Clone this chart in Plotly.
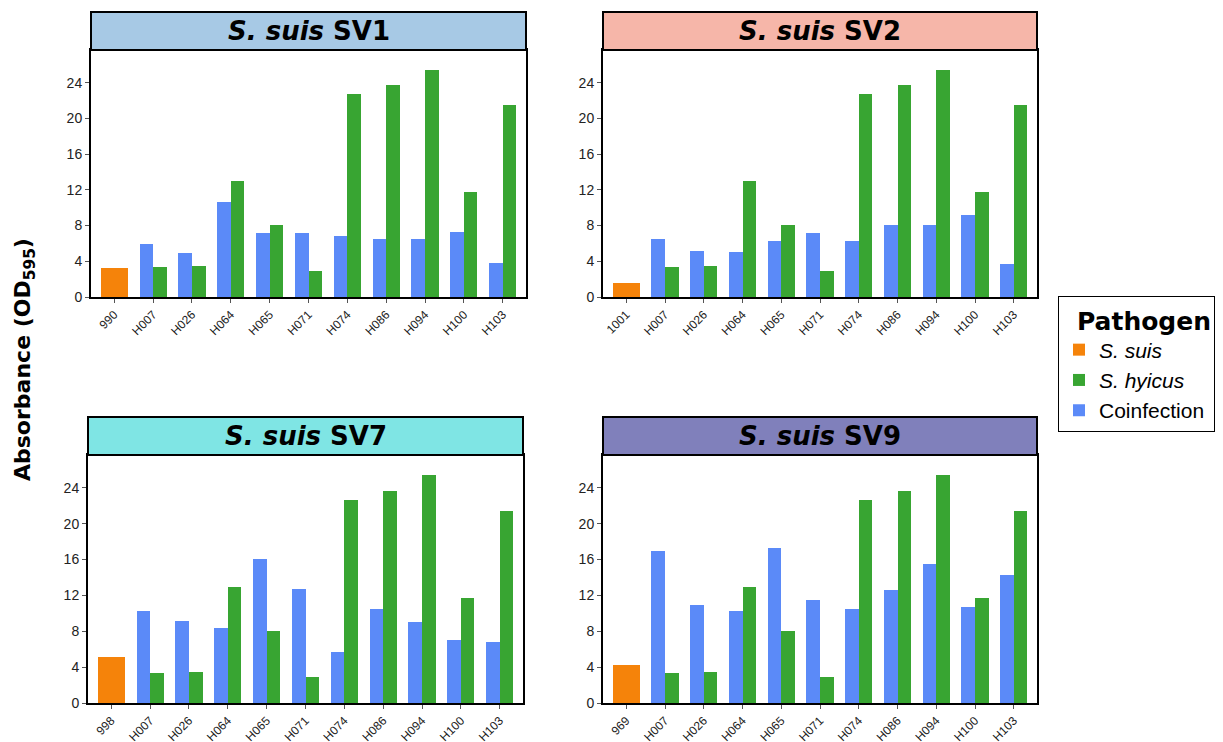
import plotly.graph_objects as go

# ---------------- data ----------------
hyicus_strains = ["H007", "H026", "H064", "H065", "H071", "H074", "H086", "H094", "H100", "H103"]
panels = ["SV1", "SV2", "SV7", "SV9"]
suis_strains = ["990", "1001", "998", "969"]
suis_values = [3.27, 1.6, 5.13, 4.23]
hyicus_values = [3.38, 3.49, 12.97, 8.07, 2.94, 22.68, 23.68, 25.46, 11.75, 21.45]
coinf_sv1 = [5.95, 4.94, 10.63, 7.17, 7.17, 6.84, 6.51, 6.51, 7.29, 3.83]
coinf_sv2 = [6.51, 5.17, 5.06, 6.28, 7.17, 6.28, 8.07, 8.07, 9.18, 3.72]
coinf_sv7 = [10.25, 9.14, 8.36, 16.05, 12.70, 5.68, 10.48, 9.03, 7.02, 6.80]
coinf_sv9 = [16.94, 10.92, 10.25, 17.27, 11.48, 10.48, 12.60, 15.50, 10.70, 14.26]
coinf_values = [coinf_sv1, coinf_sv2, coinf_sv7, coinf_sv9]
y_ticks = [0, 4, 8, 12, 16, 20, 24]

# ---------------- styling ----------------
W, H = 1223, 742
strip_colors = ["#A7C9E5", "#F6B6A9", "#7FE5E4", "#8080BB"]
c_suis, c_hyicus, c_coinf = "#F5830A", "#38A532", "#5B8AF8"


def px(v):
    return v / W


def py(v):
    return 1 - v / H


# panel boxes in screen pixels: (left, right, top, bottom)
boxes = [(91, 526, 50, 297), (603, 1037, 50, 297), (88, 523, 455, 703), (603, 1037, 455, 703)]
strip_h = 38

fig = go.Figure()

for i, name in enumerate(panels):
    xa = "x" if i == 0 else f"x{i+1}"
    ya = "y" if i == 0 else f"y{i+1}"
    show = i == 0
    fig.add_trace(go.Bar(x=[suis_strains[i]], y=[suis_values[i]], name="<i>S. suis</i>",
                         marker=dict(color=c_suis, line=dict(width=0)), width=0.7, offset=-0.35,
                         xaxis=xa, yaxis=ya, legendgroup="suis", showlegend=show, legendrank=1))
    fig.add_trace(go.Bar(x=hyicus_strains, y=hyicus_values, name="<i>S. hyicus</i>",
                         marker=dict(color=c_hyicus, line=dict(width=0)), width=0.35, offset=0.0,
                         xaxis=xa, yaxis=ya, legendgroup="hyicus", showlegend=show, legendrank=2))
    fig.add_trace(go.Bar(x=hyicus_strains, y=coinf_values[i], name="Coinfection",
                         marker=dict(color=c_coinf, line=dict(width=0)), width=0.35, offset=-0.35,
                         xaxis=xa, yaxis=ya, legendgroup="coinf", showlegend=show, legendrank=3))

    l, r, t, b = boxes[i]
    xkey = "xaxis" if i == 0 else f"xaxis{i+1}"
    ykey = "yaxis" if i == 0 else f"yaxis{i+1}"
    fig.layout[xkey] = dict(
        domain=[px(l), px(r)], anchor=ya, type="category", automargin=False,
        categoryorder="array", categoryarray=[suis_strains[i]] + hyicus_strains,
        range=[-0.6, 10.6], showline=True, mirror=True, linecolor="black", linewidth=2,
        ticks="outside", ticklen=4, tickcolor="#555", tickangle=-45,
        tickfont=dict(family="Liberation Sans, Arial", size=12, color="#222"),
        showgrid=False, zeroline=False, fixedrange=True)
    fig.layout[ykey] = dict(
        domain=[py(b), py(t)], anchor=xa, range=[0, 27.65], automargin=False,
        tickvals=y_ticks, showline=True, mirror=True, linecolor="black", linewidth=2,
        ticks="outside", ticklen=4, tickcolor="#555",
        tickfont=dict(family="Liberation Sans, Arial", size=14, color="#222"),
        showgrid=False, zeroline=False, fixedrange=True)

    # strip
    fig.add_shape(type="rect", xref="paper", yref="paper",
                  x0=px(l), x1=px(r), y0=py(t), y1=py(t - strip_h),
                  fillcolor=strip_colors[i], line=dict(color="black", width=2), layer="above")
    fig.add_annotation(xref="paper", yref="paper", x=px((l + r) / 2), y=py(t - strip_h / 2),
                       text=f"<b><i>S. suis</i> {name}</b>", showarrow=False,
                       font=dict(family="DejaVu Sans", size=26, color="black"),
                       xanchor="center", yanchor="middle")

fig.add_annotation(xref="paper", yref="paper", x=px(24), y=py(360), textangle=-90,
                   text="<b>Absorbance (OD<sub>595</sub>)</b>", showarrow=False,
                   font=dict(family="DejaVu Sans", size=22, color="black"),
                   xanchor="center", yanchor="middle")

fig.update_layout(
    width=W, height=H, autosize=False,
    margin=dict(l=0, r=0, t=0, b=0, autoexpand=False),
    plot_bgcolor="white", paper_bgcolor="white",
    barmode="overlay", bargap=0,
    legend=dict(x=px(1058), y=py(296), xanchor="left", yanchor="top",
                bordercolor="black", borderwidth=1, bgcolor="white",
                title=dict(text="&nbsp;&nbsp;<b>Pathogen</b>",
                           font=dict(family="DejaVu Sans", size=25, color="black")),
                font=dict(family="Liberation Sans, Arial", size=21, color="black"),
                traceorder="normal", itemwidth=30, tracegroupgap=0),
)

fig.write_html("out.html", config={"displayModeBar": False},
               post_script="document.body.style.margin='0px';document.body.style.overflow='hidden';")
